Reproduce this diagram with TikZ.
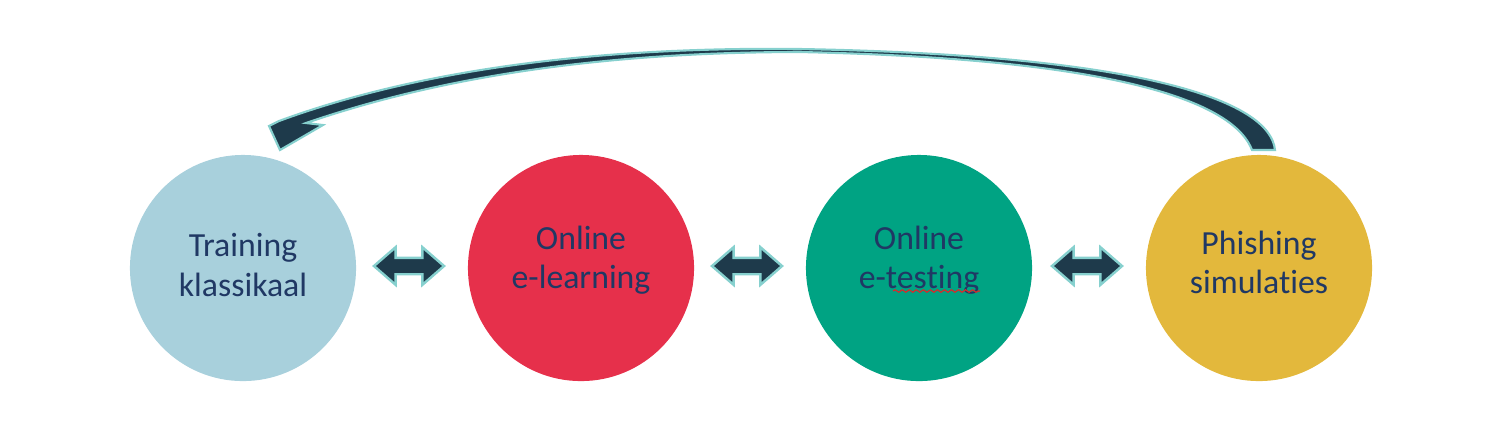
\documentclass[tikz,border=0pt]{standalone}
\usepackage{fontspec}
\setmainfont{Carlito}[Ligatures=NoCommon]
\usetikzlibrary{positioning}
\usetikzlibrary{calc}
\usetikzlibrary{shapes.arrows}
\usetikzlibrary{decorations.pathmorphing}

\definecolor{classblue}{HTML}{A8D0DC}
\definecolor{learnred}{HTML}{E6304B}
\definecolor{testgreen}{HTML}{00A383}
\definecolor{phishgold}{HTML}{E3B83C}
\definecolor{arrownavy}{HTML}{1E3A4B}
\definecolor{arrowglow}{HTML}{86D0CE}
\definecolor{textnavy}{HTML}{203864}

\begin{document}
\begin{tikzpicture}[
    x=0.01cm, y=-0.01cm,
    stage/.style={circle, minimum size=2.26cm, inner sep=0pt},
    stage text/.style={
        align=center, text=textnavy,
        font=\fontsize{9.6}{11.1}\selectfont
    },
    swap arrow/.style={
        double arrow, fill=arrownavy, draw=arrowglow, line width=0.7pt,
        minimum height=0.70cm, inner sep=0pt,
        text height=0.14cm, text depth=0pt,
        double arrow head extend=0.105cm,
        double arrow tip angle=82
    }
  ]
  \useasboundingbox (0,0) rectangle (1500,447);

  \node[stage, fill=classblue]  (klas)  at (243,268)  {};
  \node[stage, fill=learnred]   (learn) at (581,268)  {};
  \node[stage, fill=testgreen]  (test)  at (919,268)  {};
  \node[stage, fill=phishgold]  (phish) at (1259,268) {};

  \node[stage text] (klas_txt)  at ($(klas)+(0,-3)$)  {Training\\klassikaal};
  \node[stage text] (learn_txt) at ($(learn)+(0,-8)$) {Online\\e-learning};
  \node[stage text] (test_txt)  at ($(test)+(0,-8)$)  {Online\\e-testing};
  \node[stage text] (phish_txt) at ($(phish)+(0,-6)$) {Phishing\\simulaties};

  % spell check mark under "testing"
  \coordinate (wave_a) at (893,291);
  \coordinate (wave_b) at (980,291);
  \draw[red!65!gray, line width=0.35pt, decorate,
        decoration={snake, amplitude=0.35pt, segment length=2pt}] (wave_a) -- (wave_b);

  \node[swap arrow] (swap_1) at ($(klas)!0.5!(learn)+(-3,-2)$)  {};
  \node[swap arrow] (swap_2) at ($(learn)!0.5!(test)+(-3,-2)$)  {};
  \node[swap arrow] (swap_3) at ($(test)!0.5!(phish)+(-2,-2)$)  {};

  % curved arrow back to the start
  \coordinate (base_out) at (1275,150);
  \coordinate (base_in)  at (1252,150);
  \coordinate (apex_out) at (800,49);
  \coordinate (apex_in)  at (800,52);
  \coordinate (neck)     at (279,121);
  \coordinate (barb_l)   at (269,126);
  \coordinate (tip)      at (280,150);
  \coordinate (barb_r)   at (323,125);
  \coordinate (notch)    at (306,123);

  \filldraw[fill=arrownavy, draw=arrowglow, line width=0.6pt]
    (base_out) .. controls (1270,100) and (1140,55) .. (apex_out)
    .. controls (550,46) and (385,82) .. (neck)
    -- (barb_l) -- (tip) -- (barb_r) -- (notch)
    .. controls (405,89) and (560,52) .. (apex_in)
    .. controls (1130,59) and (1235,105) .. (base_in) -- cycle;

\end{tikzpicture}
\end{document}
